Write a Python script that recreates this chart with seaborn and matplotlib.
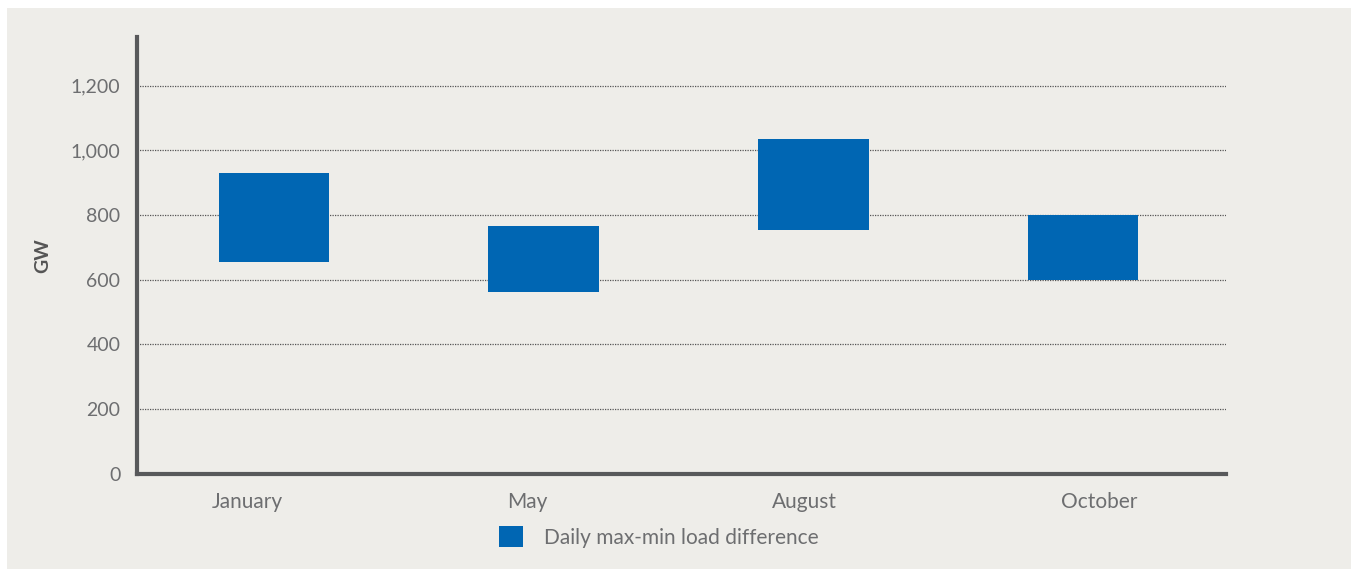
import numpy as np
import matplotlib
matplotlib.use("Agg")
import matplotlib.pyplot as plt
import seaborn as sns
from matplotlib.patches import Rectangle

# daily min / max load (GW) per month
months = ["January", "May", "August", "October"]
load_min = np.array([656, 563, 755, 598])
load_max = np.array([930, 766, 1035, 800])
y_ticks = [0, 200, 400, 600, 800, 1000, 1200]
legend_label = "Daily max-min load difference"

bg = "#EEEDE9"
bar_color = "#0066B3"
text_grey = "#6D6E70"
axis_grey = "#58595B"

sns.set_style("white")
plt.rcParams["font.family"] = ["Lato", "DejaVu Sans"]

fig = plt.figure(figsize=(13.51, 5.69), dpi=100)
fig.patch.set_facecolor("white")
# grey panel behind the chart
fig.patches.append(Rectangle((7 / 1351, 0), 1, 1 - 8 / 569, transform=fig.transFigure,
                             facecolor=bg, edgecolor="none", zorder=-5))

ax = fig.add_axes([137 / 1351, (569 - 473.7) / 569, (1226 - 137) / 1351, (473.7 - 36.7) / 569])
ax.set_facecolor("none")
ax.set_zorder(2)

sns.barplot(x=months, y=load_max - load_min, bottom=load_min, color=bar_color,
            saturation=1, width=0.41, linewidth=0, label=legend_label, ax=ax, zorder=3)

ax.set_ylim(0, 1352)
ax.set_xlim(-0.508, 3.53)
ax.set_yticks(y_ticks)
ax.set_yticklabels([f"{v:,}" for v in y_ticks])

# month labels sit slightly off the bar centres in the original
label_shift = [-0.10, -0.06, -0.035, 0.06]
ax.set_xticks([i + s for i, s in enumerate(label_shift)])
ax.set_xticklabels(months)

ax.tick_params(axis="both", length=0, labelcolor=text_grey)
ax.tick_params(axis="y", pad=12, labelsize=14)
ax.tick_params(axis="x", pad=13, labelsize=15)

for v in y_ticks[1:]:
    ax.axhline(v, color="#555555", linestyle=(0, (1, 1)), linewidth=0.9, zorder=1)

for side in ["top", "right"]:
    ax.spines[side].set_visible(False)
for side in ["left", "bottom"]:
    ax.spines[side].set_color(axis_grey)
    ax.spines[side].set_linewidth(3)

ax.set_xlabel("")
ax.set_ylabel("GW", fontsize=14, fontweight="bold", color="#555555", labelpad=14)

ax.legend(loc="center left", bbox_to_anchor=(480 / 1351, (569 - 537) / 569),
          bbox_transform=fig.transFigure, frameon=False, fontsize=15,
          handlelength=1.15, handleheight=1.15, handletextpad=1.0, labelcolor=text_grey)

fig.savefig("out.png", dpi=100, facecolor=fig.get_facecolor())
